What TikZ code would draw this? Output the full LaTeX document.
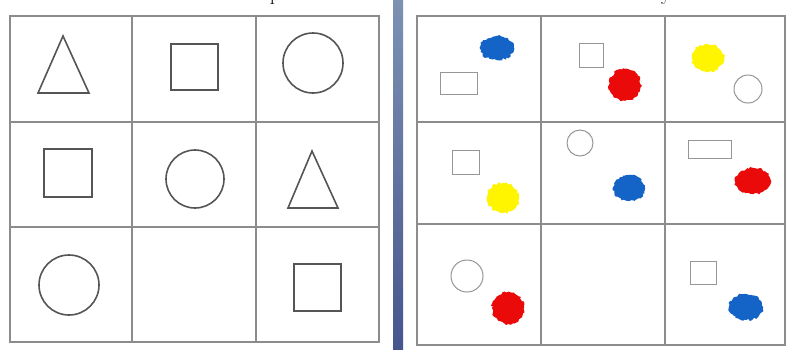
\documentclass[tikz,border=0pt]{standalone}
\usepackage{xcolor}
\usepackage{tikz}
\usetikzlibrary{decorations.pathmorphing}
\definecolor{gridgray}{RGB}{140,140,140}
\definecolor{shapegray}{RGB}{85,85,85}
\definecolor{thingray}{RGB}{150,150,150}
\definecolor{blotblue}{RGB}{20,100,200}
\definecolor{blotred}{RGB}{235,10,10}
\definecolor{blotyellow}{RGB}{255,245,0}
\definecolor{bartop}{RGB}{125,145,180}
\definecolor{barbot}{RGB}{70,85,140}

\begin{document}
\begin{tikzpicture}[x=1pt,y=-1pt,
gridline/.style={gridgray,line width=1.5pt},
bigshape/.style={shapegray,line width=1.6pt},
smallshape/.style={thingray,line width=1pt},
blot/.style={decorate,decoration={random steps,segment length=2pt,amplitude=1.2pt}}]
\pgfmathsetseed{7}
\clip(0,0)rectangle(791,349);
\fill[white](0,0)rectangle(791,349);
% letters cut off by the top edge
\node[anchor=base,font=\fontsize{20}{24}\selectfont,inner sep=0pt](pchar)at(275,0.5){p};
\node[anchor=base,font=\fontsize{20}{24}\selectfont,inner sep=0pt](ychar)at(666,0.5){y};
% separator bar
\shade[top color=bartop,bottom color=barbot](393,0)rectangle(403,349);
% left grid
\draw[gridline](10,16)rectangle(379,342);
\draw[gridline](132,16)--(132,342)(256,16)--(256,342)
(10,122)--(379,122)(10,227)--(379,227);
\draw[bigshape](63,36)--(89,93)--(38,93)--cycle;
\draw[bigshape](171,44)rectangle(218,90);
\draw[bigshape](313,63)circle[radius=30pt];
\draw[bigshape](44,149)rectangle(92,197);
\draw[bigshape](195,179)circle[radius=29pt];
\draw[bigshape](312,151)--(338,208)--(288,208)--cycle;
\draw[bigshape](69,285)circle[radius=30pt];
\draw[bigshape](294,264)rectangle(341,311);
% right grid
\draw[gridline](417,16)rectangle(785,345);
\draw[gridline](541,16)--(541,345)(665,16)--(665,345)
(417,122)--(785,122)(417,224)--(785,224);
\draw[smallshape](440,72)rectangle(477,94);
\fill[blotblue,blot](497,48)ellipse[x radius=17pt,y radius=12pt];
\draw[smallshape](579,43)rectangle(603,67);
\fill[blotred,blot](625,85)ellipse[x radius=16pt,y radius=16pt];
\fill[blotyellow,blot](708,58)ellipse[x radius=16pt,y radius=14pt];
\draw[smallshape](748,89)circle[radius=14pt];
\draw[smallshape](452,150)rectangle(479,174);
\fill[blotyellow,blot](503,198)ellipse[x radius=16pt,y radius=15pt];
\draw[smallshape](580,143)circle[radius=13pt];
\fill[blotblue,blot](629,188)ellipse[x radius=16pt,y radius=13pt];
\draw[smallshape](688,140)rectangle(731,158);
\fill[blotred,blot](753,181)ellipse[x radius=18pt,y radius=13pt];
\draw[smallshape](467,276)circle[radius=16pt];
\fill[blotred,blot](508,308)ellipse[x radius=16pt,y radius=16pt];
\draw[smallshape](690,261)rectangle(716,284);
\fill[blotblue,blot](746,307)ellipse[x radius=17pt,y radius=13pt];
\end{tikzpicture}
\end{document}
